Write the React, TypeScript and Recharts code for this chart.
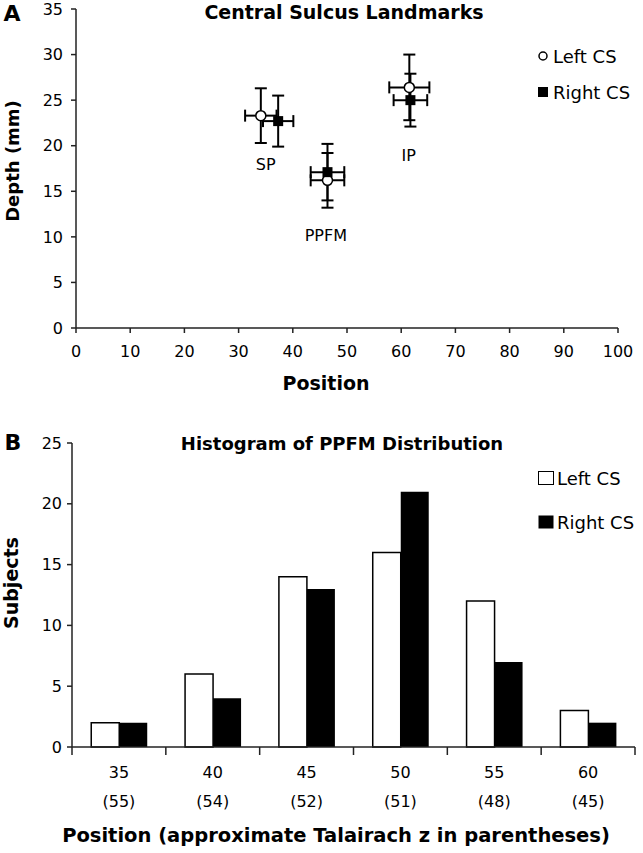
import React from 'react';
import { ScatterChart, Scatter, XAxis, YAxis, ErrorBar, BarChart, Bar, Legend } from 'recharts';

const FONT = '"DejaVu Sans", sans-serif';

// Panel A - landmark positions, mean +/- sd
const landmarks = ['SP', 'PPFM', 'IP'];
const leftX = [34.1, 46.4, 61.5];
const leftY = [23.3, 16.2, 26.4];
const leftErrX = [2.9, 3.1, 3.7];
const leftErrY = [3.0, 3.0, 3.6];
const rightX = [37.3, 46.4, 61.7];
const rightY = [22.7, 17.1, 25.0];
const rightErrX = [2.8, 3.1, 3.1];
const rightErrY = [2.8, 3.1, 2.9];
// where the landmark names sit (data coords)
const labelX = [35.0, 46.1, 61.4];
const labelY = [17.9, 10.1, 18.9];
const depthTicks = [0, 5, 10, 15, 20, 25, 30, 35];
const positionTicks = [0, 10, 20, 30, 40, 50, 60, 70, 80, 90, 100];

// Panel B - PPFM histogram
const bins = ['35', '40', '45', '50', '55', '60'];
const talairachZ = ['(55)', '(54)', '(52)', '(51)', '(48)', '(45)'];
const leftCounts = [2, 6, 14, 16, 12, 3];
const rightCounts = [2, 4, 13, 21, 7, 2];
const subjectTicks = [0, 5, 10, 15, 20, 25];

const leftData = landmarks.map((name, i) => ({ name, x: leftX[i], y: leftY[i], ex: leftErrX[i], ey: leftErrY[i] }));
const rightData = landmarks.map((name, i) => ({ name, x: rightX[i], y: rightY[i], ex: rightErrX[i], ey: rightErrY[i] }));
const labelData = landmarks.map((name, i) => ({ name, x: labelX[i], y: labelY[i] }));
const histData = bins.map((bin, i) => ({ bin, left: leftCounts[i], right: rightCounts[i] }));

const tickStyle = { fill: '#000', fontSize: 16, fontFamily: FONT };
const axisStyle = { stroke: '#222', strokeWidth: 1.5 };

const OpenCircle = (p: any) => <circle cx={p.cx} cy={p.cy} r={5} fill="#fff" stroke="#000" strokeWidth={1.5} />;
const FilledSquare = (p: any) => <rect x={p.cx - 5} y={p.cy - 5} width={10} height={10} fill="#000" />;
const LandmarkName = (p: any) => (
  <text x={p.cx} y={p.cy} textAnchor="middle" dominantBaseline="central" fontSize={16} fontFamily={FONT} fill="#000">
    {p.payload.name}
  </text>
);

const BinTick = (p: any) => {
  const { x, y, payload } = p;
  const i = bins.indexOf(String(payload.value));
  const half = payload.offset || (643 - 72 - 8) / 12;
  return (
    <g>
      <line x1={x - half} y1={y} x2={x - half} y2={y + 8} stroke="#222" strokeWidth={1.5} />
      {i === bins.length - 1 && <line x1={x + half} y1={y} x2={x + half} y2={y + 8} stroke="#222" strokeWidth={1.5} />}
      <text x={x} y={y + 25} textAnchor="middle" dominantBaseline="central" {...tickStyle}>{payload.value}</text>
      <text x={x} y={y + 54} textAnchor="middle" dominantBaseline="central" {...tickStyle}>{talairachZ[i]}</text>
    </g>
  );
};

const LegendA = () => (
  <div style={{ fontFamily: FONT, fontSize: 18, color: '#000' }}>
    <div style={{ display: 'flex', alignItems: 'center', height: 24, marginBottom: 12 }}>
      <svg width={12} height={12} style={{ marginRight: 4 }}><circle cx={6} cy={6} r={4} fill="#fff" stroke="#000" strokeWidth={1.5} /></svg>
      Left CS
    </div>
    <div style={{ display: 'flex', alignItems: 'center', height: 24 }}>
      <svg width={12} height={12} style={{ marginRight: 4 }}><rect x={1} y={1} width={10} height={10} fill="#000" /></svg>
      Right CS
    </div>
  </div>
);

const LegendB = () => (
  <div style={{ fontFamily: FONT, fontSize: 18, color: '#000' }}>
    <div style={{ display: 'flex', alignItems: 'center', height: 24, marginBottom: 20 }}>
      <svg width={17} height={15} style={{ marginRight: 2 }}><rect x={0.5} y={0.5} width={15} height={13} fill="#fff" stroke="#000" strokeWidth={1} /></svg>
      Left CS
    </div>
    <div style={{ display: 'flex', alignItems: 'center', height: 24 }}>
      <svg width={17} height={15} style={{ marginRight: 2 }}><rect x={0.5} y={0.5} width={15} height={13} fill="#000" /></svg>
      Right CS
    </div>
  </div>
);

const title = { fontFamily: FONT, fontWeight: 'bold' as const, fill: '#000' };

export default function App() {
  return (
    <div style={{ position: 'absolute', left: 0, top: 0, width: 643, height: 853, background: '#fff' }}>
      <div style={{ position: 'absolute', left: 0, top: 0 }}>
        <ScatterChart width={643} height={420} margin={{ top: 9, right: 25, bottom: 0, left: 0 }}>
          <XAxis type="number" dataKey="x" domain={[0, 100]} ticks={positionTicks} interval={0} height={92}
            tickSize={5} tickMargin={13} axisLine={axisStyle} tickLine={axisStyle} tick={tickStyle} />
          <YAxis type="number" dataKey="y" domain={[0, 35]} ticks={depthTicks} interval={0} width={76}
            tickSize={5} tickMargin={8} axisLine={axisStyle} tickLine={axisStyle} tick={tickStyle} />
          <Scatter name="Left CS" data={leftData} shape={OpenCircle} isAnimationActive={false}>
            <ErrorBar dataKey="ex" direction="x" width={6} stroke="#000" strokeWidth={2} />
            <ErrorBar dataKey="ey" direction="y" width={6} stroke="#000" strokeWidth={2} />
          </Scatter>
          <Scatter name="Right CS" data={rightData} shape={FilledSquare} isAnimationActive={false}>
            <ErrorBar dataKey="ex" direction="x" width={6} stroke="#000" strokeWidth={2} />
            <ErrorBar dataKey="ey" direction="y" width={6} stroke="#000" strokeWidth={2} />
          </Scatter>
          <Scatter name="labels" data={labelData} shape={LandmarkName} isAnimationActive={false} legendType="none" />
          <Legend content={LegendA} layout="vertical" align="center" verticalAlign="middle"
            wrapperStyle={{ position: 'absolute', left: 537, top: 44, width: 110, bottom: 'auto' }} />
        </ScatterChart>
      </div>

      <div style={{ position: 'absolute', left: 0, top: 430 }}>
        <BarChart width={643} height={423} data={histData} margin={{ top: 13, right: 8, bottom: 0, left: 0 }}
          barCategoryGap="20.5%" barGap={0}>
          <XAxis dataKey="bin" height={106} tickLine={false} tickSize={0} tickMargin={0} interval={0}
            axisLine={axisStyle} tick={BinTick} />
          <YAxis type="number" domain={[0, 25]} ticks={subjectTicks} interval={0} width={72}
            tickSize={5} tickMargin={5} axisLine={axisStyle} tickLine={axisStyle} tick={tickStyle} />
          <Bar dataKey="left" name="Left CS" fill="#fff" stroke="#000" strokeWidth={1.5} isAnimationActive={false} />
          <Bar dataKey="right" name="Right CS" fill="#000" isAnimationActive={false} />
          <Legend content={LegendB} layout="vertical" align="center" verticalAlign="middle"
            wrapperStyle={{ position: 'absolute', left: 538, top: 36, width: 110, bottom: 'auto' }} />
        </BarChart>
      </div>

      <svg width={643} height={853} style={{ position: 'absolute', left: 0, top: 0, pointerEvents: 'none' }}>
        <text x={12} y={13} textAnchor="middle" dominantBaseline="central" fontSize={22} {...title}>A</text>
        <text x={344} y={12} textAnchor="middle" dominantBaseline="central" fontSize={19} {...title}>Central Sulcus Landmarks</text>
        <text transform="translate(12,161) rotate(-90)" textAnchor="middle" dominantBaseline="central" fontSize={18} {...title}>Depth (mm)</text>
        <text x={326} y={383} textAnchor="middle" dominantBaseline="central" fontSize={19} {...title}>Position</text>
        <text x={13} y={442} textAnchor="middle" dominantBaseline="central" fontSize={22} {...title}>B</text>
        <text x={342} y={443} textAnchor="middle" dominantBaseline="central" fontSize={18} {...title}>Histogram of PPFM Distribution</text>
        <text transform="translate(11,583) rotate(-90)" textAnchor="middle" dominantBaseline="central" fontSize={19} {...title}>Subjects</text>
        <text x={336} y={835} textAnchor="middle" dominantBaseline="central" fontSize={19.5} {...title}>Position (approximate Talairach z in parentheses)</text>
      </svg>
    </div>
  );
}
